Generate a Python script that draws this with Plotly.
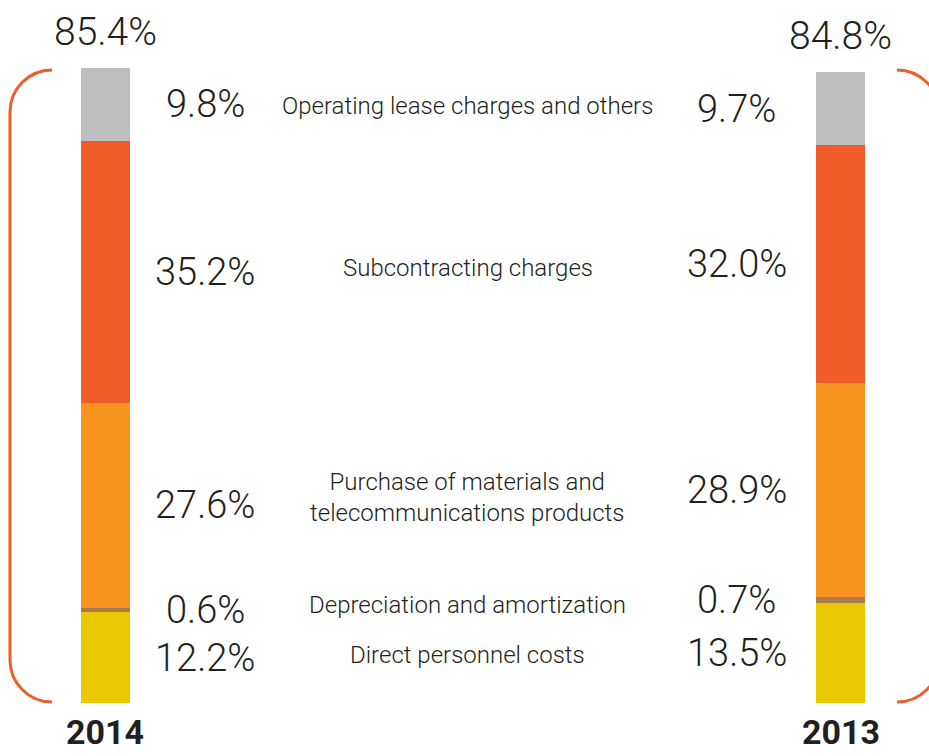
import plotly.graph_objects as go

# ---- data ----
years = ["2014", "2013"]
categories = [
    "Direct personnel costs",
    "Depreciation and amortization",
    "Purchase of materials and<br>telecommunications products",
    "Subcontracting charges",
    "Operating lease charges and others",
]
values_2014 = [12.2, 0.6, 27.6, 35.2, 9.8]
values_2013 = [13.5, 0.7, 28.9, 32.0, 9.7]
totals = [85.4, 84.8]
colors = ["#E8C800", "#A97C50", "#F7941D", "#F15A29", "#BCBEC0"]

# ---- layout constants ----
W, H = 929, 756
TOP, BOTTOM = 68, 53
TEXT = "#231F20"
FONT = "Roboto, 'Liberation Sans', Arial, sans-serif"
x_left, x_right = 0, 1
x_range = [-0.1435, 1.1204]
bar_w = 0.0667
x_pct_left, x_pct_right, x_mid = 0.1354, 0.859, 0.4932

fig = go.Figure()
for i, cat in enumerate(categories):
    fig.add_trace(go.Bar(
        x=[x_left, x_right],
        y=[values_2014[i], values_2013[i]],
        width=bar_w,
        marker=dict(color=colors[i], line=dict(width=0)),
        name=cat.replace("<br>", " "),
        hoverinfo="skip",
    ))

def midpoints(vals):
    out, acc = [], 0.0
    for v in vals:
        out.append(acc + v / 2)
        acc += v
    return out

mid14 = midpoints(values_2014)
mid13 = midpoints(values_2013)

def f(size, weight=300):
    return dict(size=size, color=TEXT, family=FONT, weight=weight)

ann = []
for i, cat in enumerate(categories):
    ann.append(dict(x=x_pct_left, y=mid14[i], text=f"{values_2014[i]:.1f}%", showarrow=False,
                    font=f(38), xanchor="center", yanchor="middle"))
    ann.append(dict(x=x_pct_right, y=mid13[i], text=f"{values_2013[i]:.1f}%", showarrow=False,
                    font=f(38), xanchor="center", yanchor="middle"))
    ann.append(dict(x=x_mid, y=(mid14[i] + mid13[i]) / 2, text=cat, showarrow=False,
                    font=f(24), xanchor="center", yanchor="middle"))

for xp, tot, yr in [(x_left, totals[0], years[0]), (x_right, totals[1], years[1])]:
    ann.append(dict(x=xp, y=tot, text=f"{tot:.1f}%", showarrow=False, yshift=11,
                    font=f(39), xanchor="center", yanchor="bottom"))
    ann.append(dict(x=xp, y=0, text=f"<b>{yr}</b>", showarrow=False, yshift=-7,
                    font=f(34, 700), xanchor="center", yanchor="top"))

# brackets (decorative), paper coordinates
def px(x):
    return x / W

def py(y):
    return (H - BOTTOM - y) / (H - TOP - BOTTOM)

def bracket_left():
    return (f"M {px(52)},{py(70)} C {px(28.8)},{py(70)} {px(10)},{py(88.8)} {px(10)},{py(112)} "
            f"L {px(10)},{py(660)} C {px(10)},{py(683.2)} {px(28.8)},{py(702)} {px(52)},{py(702)}")

def bracket_right():
    return (f"M {px(897)},{py(70)} C {px(920.2)},{py(70)} {px(939)},{py(88.8)} {px(939)},{py(112)} "
            f"L {px(939)},{py(660)} C {px(939)},{py(683.2)} {px(920.2)},{py(702)} {px(897)},{py(702)}")

shapes = [
    dict(type="path", xref="paper", yref="paper", path=bracket_left(),
         line=dict(color="#F15A29", width=3)),
    dict(type="path", xref="paper", yref="paper", path=bracket_right(),
         line=dict(color="#F15A29", width=3)),
]

fig.update_layout(
    width=W, height=H,
    barmode="stack",
    showlegend=False,
    margin=dict(l=0, r=0, t=TOP, b=BOTTOM),
    paper_bgcolor="white",
    plot_bgcolor="white",
    xaxis=dict(range=x_range, visible=False, fixedrange=True),
    yaxis=dict(range=[0, totals[0]], visible=False, fixedrange=True),
    annotations=ann,
    shapes=shapes,
)

fig.write_html(
    "out.html",
    config={"displayModeBar": False},
    post_script="document.body.style.margin='0';document.body.style.overflow='hidden';",
)
